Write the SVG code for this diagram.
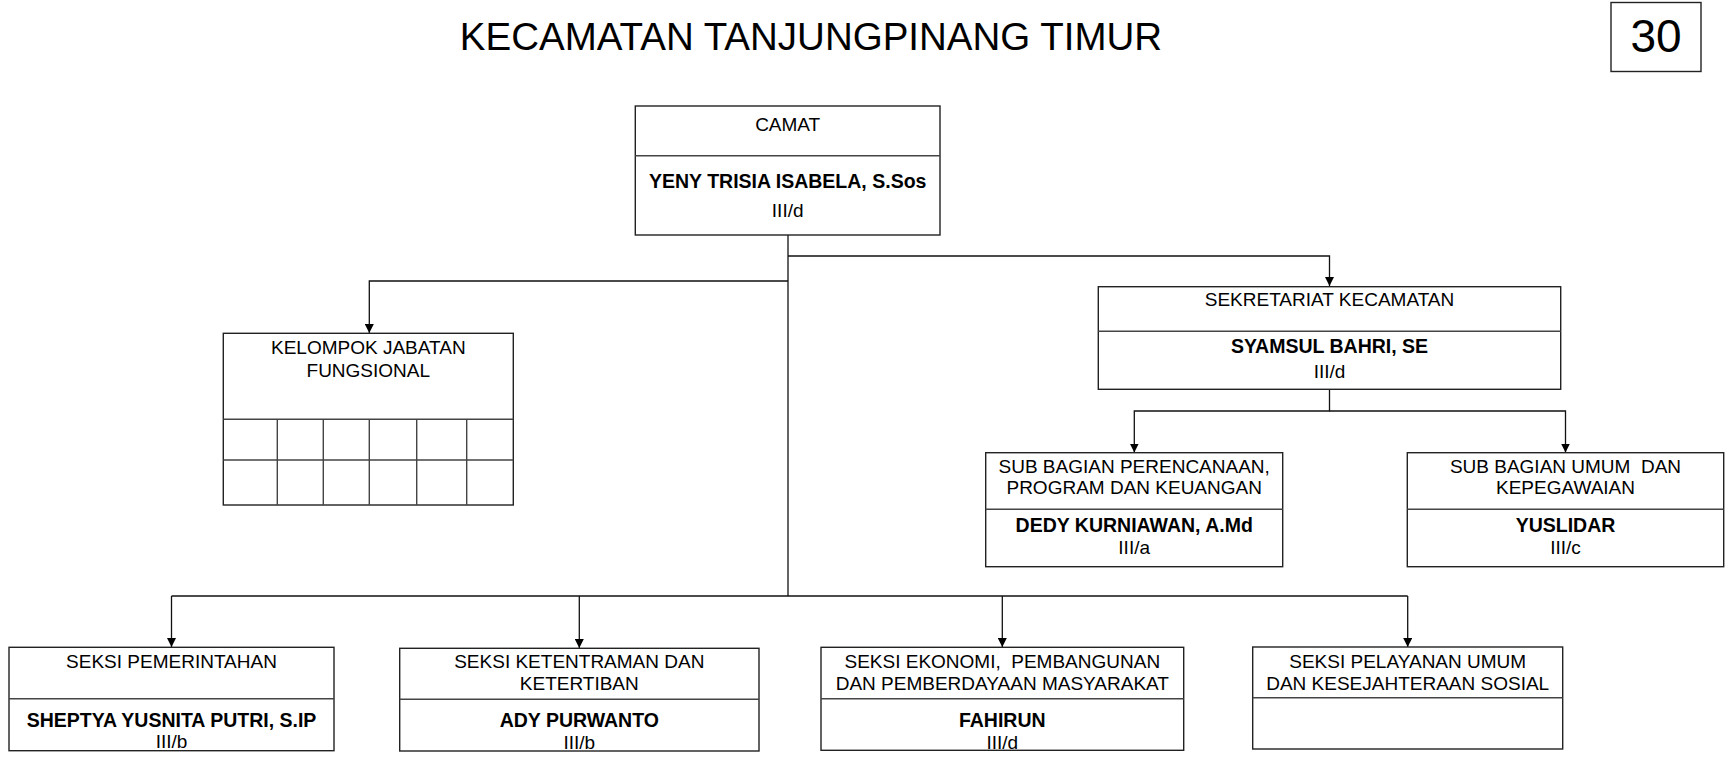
<svg xmlns="http://www.w3.org/2000/svg" width="1733" height="772" viewBox="0 0 1733 772">
<style>
  text { font-family: "Liberation Sans", Arial, sans-serif; fill: #000; white-space: pre; }
  .t { font-size: 19px; text-anchor: middle; }
  .b { font-size: 19.5px; text-anchor: middle; font-weight: bold; }
  .box { fill: #fff; stroke: #222; stroke-width: 1.4; }
  .div { fill: none; stroke: #444; stroke-width: 1.4; }
  .con { fill: none; stroke: #111; stroke-width: 1.3; }
</style>
<defs>
  <marker id="arr" viewBox="0 0 10 10" refX="10" refY="5" markerWidth="9" markerHeight="9" markerUnits="userSpaceOnUse" orient="auto">
    <path d="M0,0 L10,5 L0,10 Z" fill="#000"/>
  </marker>
</defs>
<rect width="1733" height="772" fill="#fff"/>

<text x="811" y="50" style="font-size:38.5px;text-anchor:middle">KECAMATAN TANJUNGPINANG TIMUR</text>
<g id="page-number">
  <rect x="1611" y="2.5" width="90" height="69" class="box"/>
  <text x="1656" y="52" style="font-size:46px;text-anchor:middle">30</text>
</g>

<g id="connectors">
  <path class="con" d="M788,235 V596"/>
  <path class="con" d="M788,256 H1329.5 V286" marker-end="url(#arr)"/>
  <path class="con" d="M788,281 H369.3 V333" marker-end="url(#arr)"/>
  <path class="con" d="M1329.5,389 V411 H1134.3 V452.5" marker-end="url(#arr)"/>
  <path class="con" d="M1329.5,411 H1565.5 V452.5" marker-end="url(#arr)"/>
  <path class="con" d="M171.5,596 H1407.7"/>
  <path class="con" d="M171.5,596 V647" marker-end="url(#arr)"/>
  <path class="con" d="M579.3,596 V648" marker-end="url(#arr)"/>
  <path class="con" d="M1002.3,596 V647" marker-end="url(#arr)"/>
  <path class="con" d="M1407.7,596 V647" marker-end="url(#arr)"/>
</g>

<g id="camat">
  <rect x="635.3" y="106" width="304.7" height="129" class="box"/>
  <line x1="635.3" y1="155.7" x2="940" y2="155.7" class="div"/>
  <text x="787.7" y="130.7" class="t">CAMAT</text>
  <text x="787.7" y="188.3" class="b">YENY TRISIA ISABELA, S.Sos</text>
  <text x="787.7" y="216.7" class="t">III/d</text>
</g>

<g id="kelompok-jabatan-fungsional">
  <rect x="223.3" y="333.3" width="290" height="171.7" class="box"/>
  <line x1="223.3" y1="419.3" x2="513.3" y2="419.3" class="div"/>
  <line x1="223.3" y1="460" x2="513.3" y2="460" class="div"/>
  <line x1="277.3" y1="419.3" x2="277.3" y2="505" class="div"/>
  <line x1="323.3" y1="419.3" x2="323.3" y2="505" class="div"/>
  <line x1="369.3" y1="419.3" x2="369.3" y2="505" class="div"/>
  <line x1="416.7" y1="419.3" x2="416.7" y2="505" class="div"/>
  <line x1="466.7" y1="419.3" x2="466.7" y2="505" class="div"/>
  <text x="368.3" y="354.3" class="t">KELOMPOK JABATAN</text>
  <text x="368.3" y="376.7" class="t">FUNGSIONAL</text>
</g>

<g id="sekretariat">
  <rect x="1098.3" y="286.7" width="462.4" height="102.6" class="box"/>
  <line x1="1098.3" y1="331.3" x2="1560.7" y2="331.3" class="div"/>
  <text x="1329.5" y="306" class="t">SEKRETARIAT KECAMATAN</text>
  <text x="1329.5" y="352.7" class="b">SYAMSUL BAHRI, SE</text>
  <text x="1329.5" y="377.7" class="t">III/d</text>
</g>

<g id="subbag-perencanaan">
  <rect x="985.7" y="452.7" width="297" height="114" class="box"/>
  <line x1="985.7" y1="509.3" x2="1282.7" y2="509.3" class="div"/>
  <text x="1134.2" y="473.3" class="t">SUB BAGIAN PERENCANAAN,</text>
  <text x="1134.2" y="494" class="t">PROGRAM DAN KEUANGAN</text>
  <text x="1134.2" y="531.7" class="b">DEDY KURNIAWAN, A.Md</text>
  <text x="1134.2" y="554.3" class="t">III/a</text>
</g>

<g id="subbag-umum">
  <rect x="1407.3" y="452.7" width="316.4" height="114" class="box"/>
  <line x1="1407.3" y1="509.3" x2="1723.7" y2="509.3" class="div"/>
  <text x="1565.5" y="473.3" class="t">SUB BAGIAN UMUM  DAN</text>
  <text x="1565.5" y="494" class="t">KEPEGAWAIAN</text>
  <text x="1565.5" y="531.7" class="b">YUSLIDAR</text>
  <text x="1565.5" y="554.3" class="t">III/c</text>
</g>

<g id="seksi-pemerintahan">
  <rect x="9" y="647.3" width="325" height="103.4" class="box"/>
  <line x1="9" y1="698.7" x2="334" y2="698.7" class="div"/>
  <text x="171.5" y="668.3" class="t">SEKSI PEMERINTAHAN</text>
  <text x="171.5" y="726.7" class="b">SHEPTYA YUSNITA PUTRI, S.IP</text>
  <text x="171.5" y="748.3" class="t">III/b</text>
</g>

<g id="seksi-ketentraman">
  <rect x="399.7" y="648.3" width="359.3" height="102.7" class="box"/>
  <line x1="399.7" y1="699.3" x2="759" y2="699.3" class="div"/>
  <text x="579.3" y="668.3" class="t">SEKSI KETENTRAMAN DAN</text>
  <text x="579.3" y="690" class="t">KETERTIBAN</text>
  <text x="579.3" y="727.3" class="b">ADY PURWANTO</text>
  <text x="579.3" y="749" class="t">III/b</text>
</g>

<g id="seksi-ekonomi">
  <rect x="821" y="647.3" width="362.7" height="103" class="box"/>
  <line x1="821" y1="698.7" x2="1183.7" y2="698.7" class="div"/>
  <text x="1002.3" y="668" class="t">SEKSI EKONOMI,  PEMBANGUNAN</text>
  <text x="1002.3" y="689.5" class="t">DAN PEMBERDAYAAN MASYARAKAT</text>
  <text x="1002.3" y="727" class="b">FAHIRUN</text>
  <text x="1002.3" y="748.5" class="t">III/d</text>
</g>

<g id="seksi-pelayanan">
  <rect x="1252.7" y="647" width="310" height="102" class="box"/>
  <line x1="1252.7" y1="697.7" x2="1562.7" y2="697.7" class="div"/>
  <text x="1407.7" y="668" class="t">SEKSI PELAYANAN UMUM</text>
  <text x="1407.7" y="689.5" class="t">DAN KESEJAHTERAAN SOSIAL</text>
</g>
</svg>
